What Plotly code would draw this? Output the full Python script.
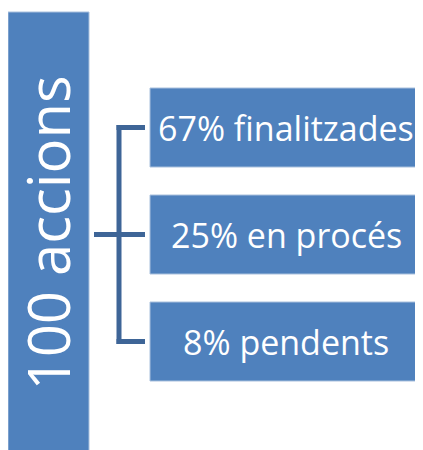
import plotly.graph_objects as go

# data
total_actions = 100
percentages = [67, 25, 8]
states = ["finalitzades", "en procés", "pendents"]

BOX_FILL = "#4f81bd"
BOX_LINE = "#a9c0dd"
LINK_COLOR = "#3e6597"
FONT = "Open Sans"

fig = go.Figure()

# big vertical block on the left
fig.add_shape(type="rect", x0=8, x1=89, y0=12, y1=452,
              fillcolor=BOX_FILL, line=dict(color=BOX_LINE, width=1), layer="below")
fig.add_annotation(x=46.5, y=233, text=f"{total_actions} accions", textangle=-90,
                   showarrow=False, font=dict(family=FONT, size=58, color="white"))

# connector: stub from the block and the vertical spine
centers = [88 + i * 107 + 39.5 for i in range(len(percentages))]
fig.add_shape(type="line", x0=94, x1=119, y0=centers[1], y1=centers[1],
              line=dict(color=LINK_COLOR, width=5))
fig.add_shape(type="line", x0=119, x1=119, y0=centers[0] - 2.5, y1=centers[-1] + 2.5,
              line=dict(color=LINK_COLOR, width=5))

for i, (pct, state) in enumerate(zip(percentages, states)):
    y0 = 88 + i * 107
    fig.add_shape(type="line", x0=116.5, x1=145, y0=centers[i], y1=centers[i],
                  line=dict(color=LINK_COLOR, width=5))
    fig.add_shape(type="rect", x0=150, x1=420, y0=y0, y1=y0 + 79,
                  fillcolor=BOX_FILL, line=dict(color=BOX_LINE, width=1))
    fig.add_annotation(x=286, y=centers[i], text=f"{pct}% {state}", showarrow=False,
                       font=dict(family=FONT, size=34, color="white"))

# the page body has an 8px margin, so the figure starts at (8, 8)
fig.update_xaxes(range=[8, 423], visible=False, fixedrange=True)
fig.update_yaxes(range=[450, 8], visible=False, fixedrange=True)
fig.update_layout(
    width=415, height=442,
    margin=dict(l=0, r=0, t=0, b=0),
    plot_bgcolor="white", paper_bgcolor="white",
    showlegend=False,
)

fig.write_html("out.html", config={"displayModeBar": False})
